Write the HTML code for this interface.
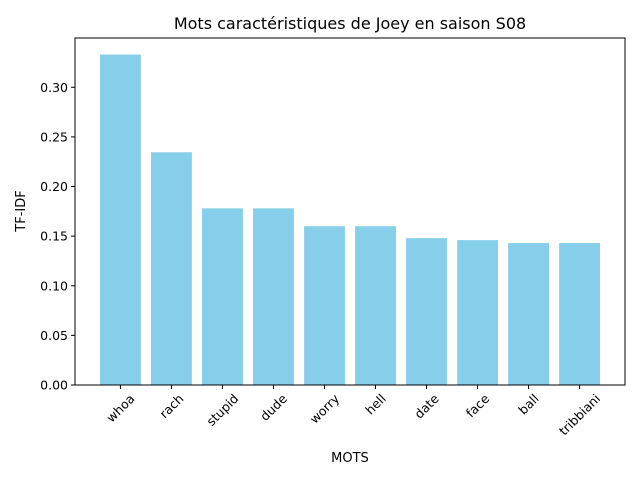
<!DOCTYPE html>
<html><head><meta charset="utf-8"><style>
body{margin:0;background:#fff;}
svg{display:block;font-family:"DejaVu Sans","Liberation Sans",sans-serif;}
</style></head><body>
<svg id="chart" width="640" height="480">
<rect width="640" height="480" fill="#fff"/>
<text x="350" y="29" font-size="16" text-anchor="middle" fill="#000">Mots caractéristiques de Joey en saison S08</text>
<g id="bars"></g><g id="yticks"></g><g id="xticks"></g>
<rect x="75" y="38" width="550" height="347" fill="none" stroke="#000" stroke-width="1"/>
<text x="350" y="462" font-size="13" text-anchor="middle">MOTS</text>
<text transform="translate(25,211) rotate(-90)" font-size="13" text-anchor="middle">TF-IDF</text>
</svg>
<script>
const categories=["whoa","rach","stupid","dude","worry","hell","date","face","ball","tribbiani"];
const values=[0.333,0.2345,0.178,0.178,0.160,0.160,0.148,0.146,0.143,0.143];
const yTicks=[0,0.05,0.10,0.15,0.20,0.25,0.30];
const yTickLabels=["0.00","0.05","0.10","0.15","0.20","0.25","0.30"];
const NS="http://www.w3.org/2000/svg";
const L=75,R=625,T=38,B=385;
const ymax=Math.max(...values)*1.05;
const y=v=>B-(v/ymax)*(B-T);
const n=categories.length;
const lo=-0.4-(n-0.2)*0.05, hi=n-1+0.4+(n-0.2)*0.05;
const x=i=>L+(i-lo)/(hi-lo)*(R-L);
const bw=0.8*(R-L)/(hi-lo);
function mk(tag,attrs,parent){const e=document.createElementNS(NS,tag);for(const k in attrs)e.setAttribute(k,attrs[k]);document.getElementById(parent).appendChild(e);return e;}
values.forEach((v,i)=>{
 const r=mk("rect",{x:x(i)-bw/2,y:y(v),width:bw,height:B-y(v),fill:"#87ceeb"},"bars");
 
 
 const t=mk("line",{x1:x(i),x2:x(i),y1:B,y2:B+4,stroke:"#000"},"xticks");
 
 
 const lb=mk("text",{x:0,y:0,"font-size":"12.5","text-anchor":"middle"},"xticks");
 lb.textContent=categories[i];
 
 
 const w=lb.getComputedTextLength(), h=12;
 const half=(w+h)*0.7071/2;
 const cx=x(i), cy=B+7+half;
 lb.setAttribute('x',cx);
 lb.setAttribute('y',cy+4.5);
 lb.setAttribute('transform',`rotate(-45 ${cx} ${cy})`);
});
yTicks.forEach((v,i)=>{
 const t=mk("line",{x1:L-4,x2:L,y1:y(v),y2:y(v),stroke:"#000"},"yticks");
 
 
 const lb=mk("text",{x:L-7,y:y(v)+4.5,"font-size":"12.5","text-anchor":"end"},"yticks");
 lb.textContent=yTickLabels[i];
 
 
});
</script>
</body></html>
